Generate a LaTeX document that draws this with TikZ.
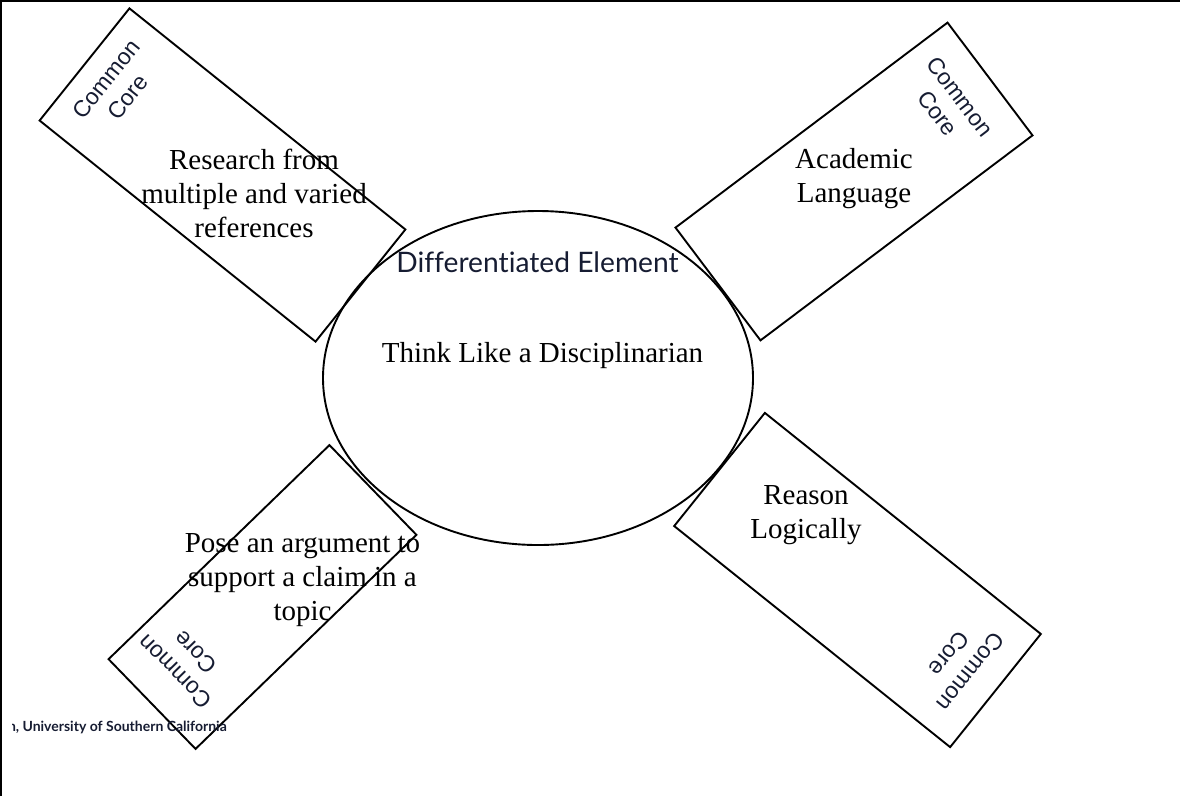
\documentclass[tikz,border=0pt]{standalone}
\usepackage{fontspec}
\setmainfont{Liberation Serif}
\newfontfamily\ccfont{Liberation Sans}
\newfontfamily\defont[Ligatures={NoCommon,NoDiscretionary,NoContextual}]{Lato}
\usetikzlibrary{shapes.geometric}
\definecolor{navy}{RGB}{22,28,50}
\begin{document}
\begin{tikzpicture}[x=1pt,y=-1pt,
  box/.style={draw, line width=1.9pt, inner sep=0pt},
  main/.style={font=\fontsize{29}{34}\selectfont, align=center, inner sep=0pt, anchor=base},
  cc/.style={font=\ccfont\fontsize{23}{28}\selectfont, text=navy, align=center, inner sep=0pt, anchor=center},
]
\useasboundingbox (0,0) rectangle (1180,796);
% frame (top and left edges)
\draw[line width=2pt] (1,796) -- (1,1) -- (1180,1);

% central ellipse
\node[box, ellipse, minimum width=430pt, minimum height=334pt] (el) at (538,378) {};

% rotated rectangles
\node[box, minimum width=353.6pt, minimum height=143.7pt, rotate=-38.7] (r1) at (222.5,175) {};
\node[box, minimum width=340.6pt, minimum height=141.2pt, rotate=37] (r2) at (854,181.5) {};
\node[box, minimum width=307.6pt, minimum height=125pt, rotate=44.1] (r3) at (262.5,597) {};
\node[box, minimum width=353.6pt, minimum height=145pt, rotate=-38.7] (r4) at (857.5,580) {};

% Common Core labels
\node[cc, rotate=51.3] (c1) at (117,88) {Common\\Core};
\node[cc, rotate=-52.6] (c2) at (949,105) {Common\\Core};
\node[cc, rotate=134.4] (c3) at (185,662) {Common\\Core};
\node[cc, rotate=-128.7] (c4) at (960,663) {Common\\Core};

% main texts (anchor base = baseline of the last line)
\node[main] (t1) at (254,237) {Research from\\multiple and varied\\references};
\node[main] (t2) at (854,202) {Academic\\Language};
\node[main] (t3) at (302.5,620) {Pose an argument to\\support a claim in a\\topic};
\node[main] (t4) at (806,538) {Reason\\Logically};
\node[main] (t5) at (542.5,362) {Think Like a Disciplinarian};
\node[inner sep=0pt, anchor=base, font=\defont\fontsize{28.2}{32}\selectfont, text=navy] (de) at (537.5,272) {Differentiated Element};

% footer (clipped at left as in the original)
\begin{scope}
\clip (12.5,700) rectangle (400,760);
\node[inner sep=0pt, anchor=base east, font=\defont\bfseries\fontsize{14}{16}\selectfont, text=navy] (ft) at (227,731) {n, University of Southern California};
\end{scope}
\end{tikzpicture}
\end{document}
